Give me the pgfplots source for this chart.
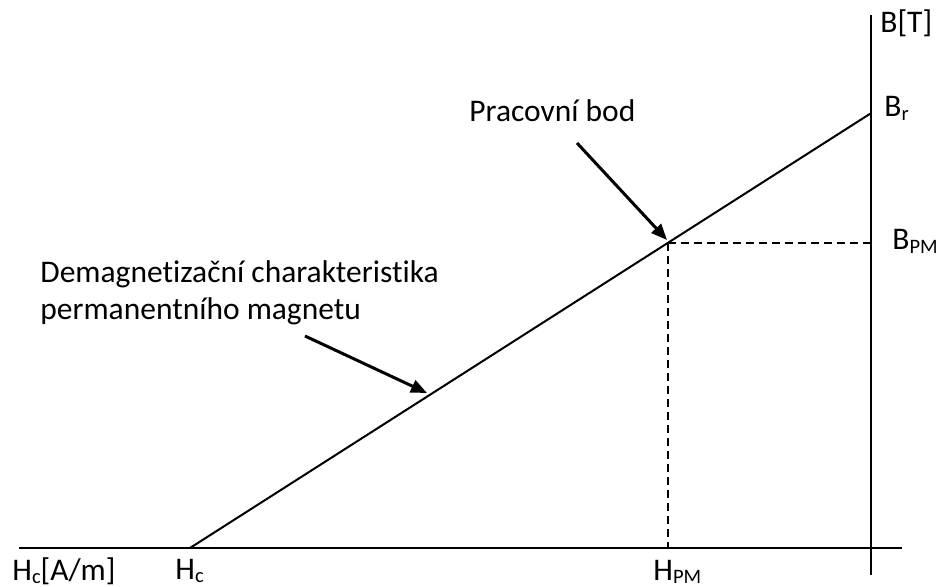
\documentclass[border=0pt]{standalone}
\usepackage{fontspec}
\setmainfont{Carlito}[Ligatures={NoCommon}]
\usepackage{pgfplots}
\pgfplotsset{compat=1.18}
\usetikzlibrary{arrows.meta}
\tikzset{lab/.style={font=\fontsize{15.8}{19}\selectfont, inner sep=0pt, anchor=base west}}
\newcommand\sub[1]{\raisebox{-0.12em}{\fontsize{10.3}{12}\selectfont #1}}
\begin{document}
\begin{tikzpicture}
\begin{axis}[name=ax, scale only axis, width=469bp, height=293.5bp,
  xmin=0, xmax=938, ymin=0, ymax=587, hide axis, clip=false]
% axes
\addplot[black, line width=1bp] coordinates {(19,39) (902,39)};
\addplot[black, line width=1bp] coordinates {(870.5,12) (870.5,572)};
% demagnetization characteristic
\addplot[black, line width=1bp] coordinates {(190,39) (870.5,473.5)};
% working point projections
\addplot[black, line width=1bp, dash pattern=on 4bp off 2.5bp] coordinates {(667.5,344) (870.5,344)};
\addplot[black, line width=1bp, dash pattern=on 4bp off 2.5bp] coordinates {(667.5,344) (667.5,39)};
% arrows
\addplot[black, line width=1.5bp, -{Triangle[length=8bp,width=6.5bp]}] coordinates {(577,444) (667,347)};
\addplot[black, line width=1.5bp, -{Triangle[length=8bp,width=6.5bp]}] coordinates {(305,251) (427,194)};
% labels
\node[lab] at (axis cs:469,465) {Pracovní bod};
\node[lab] at (axis cs:40,304) {Demagnetizační charakteristika};
\node[lab] at (axis cs:40,267) {permanentního magnetu};
\node[lab] at (axis cs:12,7) {H\sub{c}[A/m]};
\node[lab] at (axis cs:175,8) {H\sub{c}};
\node[lab] at (axis cs:653,7) {H\sub{PM}};
\node[lab] at (axis cs:880,554) {B[T]};
\node[lab] at (axis cs:884,470) {B\sub{r}};
\node[lab] at (axis cs:892,337) {B\sub{PM}};
\end{axis}
\pgfresetboundingbox
\useasboundingbox (ax.south west) rectangle (ax.north east);
\end{tikzpicture}
\end{document}
